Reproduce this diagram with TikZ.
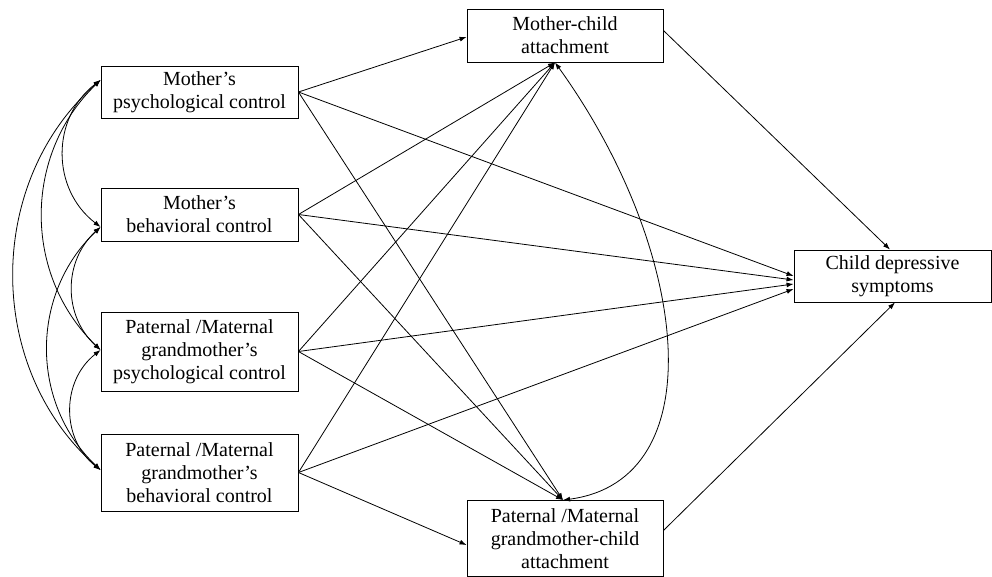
\documentclass[tikz,border=0pt]{standalone}
\usepackage{fontspec}
\setmainfont{Liberation Serif}
\usetikzlibrary{arrows.meta,calc}
\begin{document}
\begin{tikzpicture}[x=1pt,y=-1pt,
  box/.style={draw,line width=0.9pt,align=center,inner sep=0pt,
    font=\fontsize{20}{23}\selectfont,minimum width=197pt},
  con/.style={line width=0.8pt,-{Latex[length=7pt,width=5pt]}},
  cov/.style={line width=0.8pt,{Latex[length=7pt,width=5pt]}-{Latex[length=7pt,width=5pt]}}]
\useasboundingbox (0,0) rectangle (992,577);

\node[box,minimum height=52pt] (mp) at (199.5,92) {Mother’s\\psychological control};
\node[box,minimum height=53pt] (mb) at (199.5,214.5) {Mother’s\\behavioral control};
\node[box,minimum height=79pt] (gp) at (199.5,351.5) {Paternal /Maternal\\grandmother’s\\psychological control};
\node[box,minimum height=77pt] (gb) at (199.5,472.5) {Paternal /Maternal\\grandmother’s\\behavioral control};
\node[box,minimum width=196pt,minimum height=53pt] (mc) at (565,35.5) {Mother-child\\attachment};
\node[box,minimum width=196pt,minimum height=76pt] (gc) at (565,538.5) {Paternal /Maternal\\grandmother-child\\attachment};
\node[box,minimum height=52pt] (cd) at (892.5,276) {Child depressive\\symptoms};

% named end points
\coordinate (mcW) at ($(mc.west)+(0,1.5)$);
\coordinate (mcB) at ($(mc.south)+(-10,0)$);
\coordinate (mcE) at ($(mc.east)+(0,-5)$);
\coordinate (gcT) at ($(gc.north)+(-2,0)$);
\coordinate (gcW) at ($(gc.west)+(0,6.5)$);
\coordinate (gcE) at ($(gc.east)+(0,-8)$);
\coordinate (cd1) at ($(cd.west)+(0,0)$);
\coordinate (cd2) at ($(cd.west)+(0,4)$);
\coordinate (cd3) at ($(cd.west)+(0,8)$);
\coordinate (cd4) at ($(cd.west)+(0,13)$);
\coordinate (cdT) at ($(cd.north)+(-2.5,0)$);
\coordinate (cdB) at ($(cd.south)+(2.5,0)$);
\coordinate (mpL) at ($(mp.west)+(0,-12)$);
\coordinate (mbL) at ($(mb.west)+(0,12.5)$);
\coordinate (gpL) at ($(gp.west)+(0,-1.5)$);
\coordinate (gbL) at ($(gb.west)+(0,-2.5)$);

% paths from mother's psychological control
\draw[con] (mp.east) -- (mcW);
\draw[con] (mp.east) -- (cd1);
\draw[con] (mp.east) -- (gcT);
% mother's behavioral control
\draw[con] (mb.east) -- (mcB);
\draw[con] (mb.east) -- (cd2);
\draw[con] (mb.east) -- (gcT);
% grandmother's psychological control
\draw[con] (gp.east) -- (mcB);
\draw[con] (gp.east) -- (cd3);
\draw[con] (gp.east) -- (gcT);
% grandmother's behavioral control
\draw[con] (gb.east) -- (mcB);
\draw[con] (gb.east) -- (cd4);
\draw[con] (gb.east) -- (gcW);
% attachments to outcome
\draw[con] (mcE) -- (cdT);
\draw[con] (gcE) -- (cdB);

% covariance between attachments
\draw[cov] (mcB) .. controls (690,250) and (715,480) .. (gcT);

% covariances among predictors
\draw[cov] (mpL) .. controls (51,118) and (51,189) .. (mbL);
\draw[cov] (mbL) .. controls (63,261) and (63,316) .. (gpL);
\draw[cov] (gpL) .. controls (61,381) and (61,439) .. (gbL);
\draw[cov] (mpL) .. controls (23,155) and (23,275) .. (gpL);
\draw[cov] (mbL) .. controls (30,294) and (30,403) .. (gbL);
\draw[cov] (mpL) .. controls (-15,182) and (-15,368) .. (gbL);
\end{tikzpicture}
\end{document}
